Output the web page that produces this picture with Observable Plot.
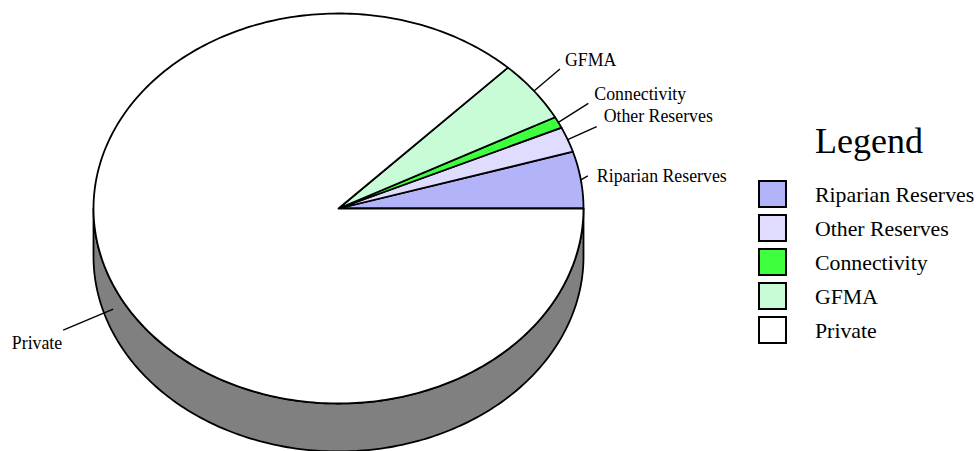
<!DOCTYPE html>
<html>
<head>
<meta charset="utf-8">
<script src="https://cdn.jsdelivr.net/npm/d3@7"></script>
<script src="https://cdn.jsdelivr.net/npm/@observablehq/plot@0.6"></script>
<style>
  body { margin: 0; background: #fff; }
  #wrap { position: relative; width: 980px; height: 451px; font-family: "Liberation Serif", "Times New Roman", serif; color: #000; }
  #legend-title { position: absolute; left: 815px; top: 123px; font-size: 36px; line-height: 36px; white-space: nowrap; }
  .lg-row { position: absolute; left: 758px; height: 28px; }
  .lg-sw { position: absolute; left: 0; top: 0; width: 25px; height: 24px; border: 2px solid #000; }
  .lg-tx { position: absolute; left: 57px; font-size: 21.8px; line-height: 22px; white-space: nowrap; }
</style>
</head>
<body>
<div id="wrap">
  <div id="chart"></div>
  <div id="legend-title">Legend</div>
  <div id="legend"></div>
</div>
<script>
// ---- data ----
const categories = ["Riparian Reserves", "Other Reserves", "Connectivity", "GFMA", "Private"];
const values = [4.7, 2.1, 0.95, 5.1, 87.15];
const colors = ["#b3b3fa", "#e0dcff", "#3dff3d", "#c8fcd6", "#ffffff"];
const sideColor = "#808080";
// leader-line and label offsets (pixels) relative to the slice edge point
const leaderOffset = [[7, -4], [29, -13], [30, -19], [26, -22], [-50, 21]];
const labelOffset = [[9, 0], [7, -10], [6, -9.5], [5, -8.5], [-1, 13.5]];

// ---- geometry ----
const W = 980, H = 451;
const cx = 338, cy = 208, rx = 245, ry = 195;
const depth = 48 / ry; // in unit-radius y units

const total = d3.sum(values);
const DEG = Math.PI / 180;
let acc = 0;
const slices = categories.map((name, i) => {
  const a0 = acc / total * 2 * Math.PI;
  acc += values[i];
  const a1 = acc / total * 2 * Math.PI;
  return {name, i, a0, a1, mid: (a0 + a1) / 2};
});

// polygon points for each slice on the top face
const slicePts = [];
for (const s of slices) {
  slicePts.push({key: s.name, name: s.name, x: 0, y: 0});
  const n = Math.max(2, Math.ceil((s.a1 - s.a0) / DEG));
  for (let k = 0; k <= n; k++) {
    const t = s.a0 + (s.a1 - s.a0) * k / n;
    slicePts.push({key: s.name, name: s.name, x: Math.cos(t), y: Math.sin(t)});
  }
}

// side wall (visible front half, belongs to the last slice)
const sidePts = [];
for (let d = 180; d <= 360; d++) {
  const t = d * DEG;
  sidePts.push({key: "side", x: Math.cos(t), y: Math.sin(t)});
}
for (let d = 360; d >= 180; d--) {
  const t = d * DEG;
  sidePts.push({key: "side", x: Math.cos(t), y: Math.sin(t) - depth});
}

// label anchors
const labels = slices.map(s => {
  let x = Math.cos(s.mid), y = Math.sin(s.mid);
  if (y < 0) y = y - depth / 2; // on the side wall
  const [lx, ly] = leaderOffset[s.i];
  const [tx, ty] = labelOffset[s.i];
  const x2 = x + lx / rx, y2 = y - ly / ry;
  return {
    name: s.name, x1: x, y1: y, x2, y2,
    tx: x2 + tx / rx, ty: y2 - ty / ry,
    right: Math.cos(s.mid) >= 0
  };
});

const font = '"Liberation Serif", "Times New Roman", serif';

const chart = Plot.plot({
  width: W,
  height: H,
  margin: 0,
  style: {background: "transparent", overflow: "visible"},
  x: {domain: [-cx / rx, (W - cx) / rx], range: [0, W], axis: null},
  y: {domain: [-(H - cy) / ry, cy / ry], range: [H, 0], axis: null},
  color: {domain: categories, range: colors},
  marks: [
    Plot.line(sidePts, {x: "x", y: "y", z: "key", fill: sideColor, stroke: "#000", strokeWidth: 1.8, curve: "linear-closed"}),
    Plot.line(slicePts, {x: "x", y: "y", z: "key", fill: "name", stroke: "#000", strokeWidth: 1.8, strokeLinejoin: "round", curve: "linear-closed"}),
    Plot.link(labels, {x1: "x1", y1: "y1", x2: "x2", y2: "y2", stroke: "#000", strokeWidth: 1.4}),
    Plot.text(labels.filter(d => d.right), {x: "tx", y: "ty", text: "name", textAnchor: "start", fontSize: 17.8, fontFamily: font, fill: "#000"}),
    Plot.text(labels.filter(d => !d.right), {x: "tx", y: "ty", text: "name", textAnchor: "end", fontSize: 17.8, fontFamily: font, fill: "#000"})
  ]
});
document.getElementById("chart").appendChild(chart);

// ---- legend ----
const legend = document.getElementById("legend");
categories.forEach((name, i) => {
  const row = document.createElement("div");
  row.className = "lg-row";
  row.style.top = (180 + 34 * i) + "px";
  const sw = document.createElement("div");
  sw.className = "lg-sw";
  sw.style.background = colors[i];
  const tx = document.createElement("div");
  tx.className = "lg-tx";
  tx.style.top = "3.6px";
  tx.textContent = name;
  row.appendChild(sw);
  row.appendChild(tx);
  legend.appendChild(row);
});
</script>
</body>
</html>
